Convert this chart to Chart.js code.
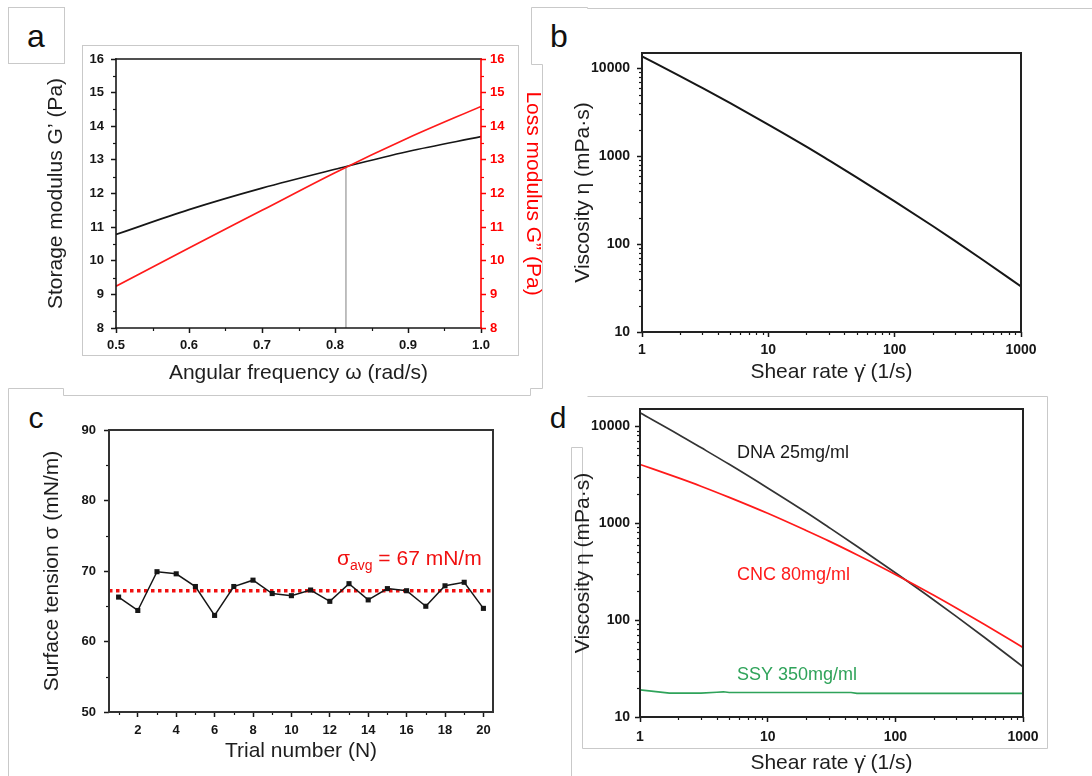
<!DOCTYPE html>
<html>
<head>
<meta charset="utf-8">
<script src="https://cdn.jsdelivr.net/npm/chart.js@4.4.1/dist/chart.umd.min.js"></script>
<style>
  html, body { margin: 0; padding: 0; background: #ffffff; }
  #wrap { position: relative; width: 1092px; height: 776px; overflow: hidden; background: #fff; }
  #wrap canvas { position: absolute; }
  #wrap svg { position: absolute; left: 0; top: 0; }
</style>
</head>
<body>
<div id="wrap">
  <svg width="1092" height="776" xmlns="http://www.w3.org/2000/svg">
    <g fill="none" stroke="#c9c9c9" stroke-width="1">
      <rect x="8.5" y="7.5" width="56" height="56"/>
      <rect x="82.5" y="45.5" width="436" height="310"/>
      <polyline points="8.5,776 8.5,388.5 63.5,388.5 63.5,395.5 530.5,395.5 530.5,388.5 542.5,388.5 542.5,64.5 531.5,64.5 531.5,7.5 587.5,7.5 587.5,8.5 1092,8.5"/>
      <polyline points="571.5,776 571.5,447.5 582.5,447.5 582.5,748.5 1047.5,748.5 1047.5,396.5 587.5,396.5"/>
    </g>
    <g font-family="'Liberation Sans', Arial, sans-serif" fill="#111" text-anchor="middle">
      <text x="36" y="47" font-size="32">a</text>
      <text x="559" y="47" font-size="32">b</text>
      <text x="36" y="428" font-size="30">c</text>
      <text x="558" y="428" font-size="30">d</text>
    </g>
  </svg>
  <canvas id="chartA" width="545" height="388" style="left:0px;top:0px"></canvas>
  <canvas id="chartB" width="547" height="388" style="left:545px;top:0px"></canvas>
  <canvas id="chartC" width="545" height="388" style="left:0px;top:388px"></canvas>
  <canvas id="chartD" width="547" height="388" style="left:545px;top:388px"></canvas>
</div>
<script>
// ---------------- DATA ----------------
// Panel a: oscillatory sweep
const omega = [0.5, 0.6, 0.7, 0.8, 0.9, 1.0];
const storageModulus = [10.78, 11.52, 12.16, 12.72, 13.25, 13.69];
const lossModulus = [9.24, 10.38, 11.50, 12.62, 13.65, 14.59];
const crossoverOmega = [0.815, 0.815];
const crossoverG = [8, 12.8];
const omegaTicks = [0.5, 0.6, 0.7, 0.8, 0.9, 1.0];
const modulusTicks = [8, 9, 10, 11, 12, 13, 14, 15, 16];

// Panels b and d: flow curves
const shearRate = [1, 2, 3, 5, 10, 20, 30, 50, 100, 200, 300, 500, 1000];
const dnaViscosity = [13700, 8200, 6000, 4030, 2300, 1290, 906, 577, 307, 161, 109, 66, 33];
const cncViscosity = [4020, 2920, 2400, 1840, 1260, 838, 655, 471, 295, 180, 133, 90, 52];
const ssyShearRate = [1, 1.7, 3, 4, 4.5, 5, 10, 20, 45, 50, 100, 1000];
const ssyViscosity = [19.0, 17.6, 17.6, 18.0, 18.2, 17.9, 17.9, 17.9, 17.9, 17.5, 17.5, 17.5];
const rateTicks = [1, 10, 100, 1000];
const viscosityTicks = [10, 100, 1000, 10000];

// Panel c: surface tension trials
const trialNumber = [1, 2, 3, 4, 5, 6, 7, 8, 9, 10, 11, 12, 13, 14, 15, 16, 17, 18, 19, 20];
const surfaceTension = [66.3, 64.4, 69.9, 69.6, 67.8, 63.7, 67.8, 68.7, 66.8, 66.5, 67.3, 65.7, 68.2, 65.9, 67.5, 67.2, 65.0, 67.9, 68.4, 64.7];
const sigmaAvg = 67.2;
const trialTicks = [2, 4, 6, 8, 10, 12, 14, 16, 18, 20];
const tensionTicks = [50, 60, 70, 80, 90];

// ---------------- HELPERS ----------------
const FONT = "'Liberation Sans', Arial, Helvetica, sans-serif";
const INK = '#161616';
const RED = '#ff1a1a';
const GREEN = '#2fa35a';

function pts(xs, ys) { return xs.map((x, i) => ({ x: x, y: ys[i] })); }
function midMinor(ticks, lo, hi) {
  const out = [];
  const step = ticks[1] - ticks[0];
  const first = ticks[0] - step / 2;
  if (first >= lo - 1e-9) out.push(first);
  for (let i = 0; i < ticks.length - 1; i++) out.push((ticks[i] + ticks[i + 1]) / 2);
  const last = ticks[ticks.length - 1] + step / 2;
  if (last <= hi + 1e-9) out.push(last);
  return out;
}
function logMinor(ticks, lo, hi) {
  const out = [];
  ticks.forEach(d => { for (let k = 2; k <= 9; k++) { const v = d * k; if (v >= lo && v <= hi) out.push(v); } });
  return out;
}
function mkAxis(o) {
  return {
    type: o.type || 'linear',
    position: o.pos,
    axis: o.axis,
    min: o.min, max: o.max,
    afterBuildTicks: s => { s.ticks = o.ticks.map(v => ({ value: v })); },
    afterFit: s => { if (s.isHorizontal()) s.height = o.size; else s.width = o.size; },
    grid: { display: true, drawOnChartArea: false, drawTicks: true, tickLength: 5, tickWidth: 1.5,
            tickColor: o.color, color: o.color, lineWidth: 1 },
    border: { display: false },
    ticks: { autoSkip: false, maxRotation: 0, minRotation: 0, padding: o.tickPad, color: o.color,
             font: { family: FONT, size: o.tickSize || 13, weight: 'bold' }, callback: o.fmt },
    title: { display: true, text: o.title, color: o.titleColor || '#1e1e1e',
             font: { family: FONT, size: 21 }, padding: o.titlePad }
  };
}
function dummy(axis, pos, size) {
  return { type: 'linear', axis: axis, position: pos, display: true,
           grid: { display: false }, border: { display: false },
           ticks: { display: false }, title: { display: false },
           afterFit: s => { if (s.isHorizontal()) s.height = size; else s.width = size; } };
}

const decorPlugin = {
  id: 'decor',
  afterDatasetsDraw(chart, args, opts) {
    const ctx = chart.ctx, ca = chart.chartArea;
    ctx.save();
    (opts.minor || []).forEach(m => {
      const s = chart.scales[m.axis];
      ctx.strokeStyle = m.color; ctx.lineWidth = 1.2;
      m.values.forEach(v => {
        const p = Math.round(s.getPixelForValue(v)) + 0.5;
        ctx.beginPath();
        if (s.position === 'left') { ctx.moveTo(ca.left, p); ctx.lineTo(ca.left - m.len, p); }
        else if (s.position === 'right') { ctx.moveTo(ca.right, p); ctx.lineTo(ca.right + m.len, p); }
        else { ctx.moveTo(p, ca.bottom); ctx.lineTo(p, ca.bottom + m.len); }
        ctx.stroke();
      });
    });
    const f = opts.frame;
    ctx.lineWidth = f.width; ctx.lineCap = 'square';
    const seg = (x1, y1, x2, y2, c) => { ctx.strokeStyle = c; ctx.beginPath(); ctx.moveTo(x1, y1); ctx.lineTo(x2, y2); ctx.stroke(); };
    seg(ca.left, ca.top, ca.right, ca.top, f.top);
    seg(ca.left, ca.bottom, ca.right, ca.bottom, f.bottom);
    seg(ca.left, ca.top, ca.left, ca.bottom, f.left);
    seg(ca.right, ca.top, ca.right, ca.bottom, f.right);
    (opts.texts || []).forEach(t => {
      let x = chart.scales.x.getPixelForValue(t.x);
      const y = chart.scales.y.getPixelForValue(t.y);
      ctx.textAlign = 'left';
      ctx.textBaseline = t.baseline || 'alphabetic';
      ctx.fillStyle = t.color;
      t.parts.forEach(p => {
        ctx.font = p.font;
        ctx.fillText(p.text, x, y + (p.dy || 0));
        x += ctx.measureText(p.text).width;
      });
    });
    ctx.restore();
  }
};

const baseOpts = { responsive: false, animation: false, devicePixelRatio: 1, layout: { padding: 0 } };

// ---------------- PANEL A ----------------
new Chart(document.getElementById('chartA'), {
  type: 'scatter',
  data: { datasets: [
    { label: 'Loss modulus G″', data: pts(omega, lossModulus), yAxisID: 'y2', showLine: true,
      borderColor: RED, borderWidth: 1.7, pointRadius: 0, cubicInterpolationMode: 'monotone', order: 0 },
    { label: 'Storage modulus G′', data: pts(omega, storageModulus), yAxisID: 'y', showLine: true,
      borderColor: INK, borderWidth: 1.7, pointRadius: 0, cubicInterpolationMode: 'monotone', order: 1 },
    { label: 'Crossover', data: pts(crossoverOmega, crossoverG), yAxisID: 'y', showLine: true,
      borderColor: '#8c8c8c', borderWidth: 1.1, pointRadius: 0, order: 2 }
  ]},
  options: Object.assign({}, baseOpts, {
    plugins: {
      legend: { display: false }, tooltip: { enabled: false },
      decor: {
        frame: { width: 1.6, top: INK, bottom: INK, left: INK, right: '#ff0000' },
        minor: [
          { axis: 'x', values: midMinor(omegaTicks, 0.5, 1.0), len: 3, color: INK },
          { axis: 'y', values: midMinor(modulusTicks, 8, 16), len: 3, color: INK },
          { axis: 'y2', values: midMinor(modulusTicks, 8, 16), len: 3, color: '#ff0000' }
        ]
      }
    },
    scales: {
      x: mkAxis({ axis: 'x', pos: 'bottom', min: 0.5, max: 1.0, ticks: omegaTicks, size: 60, tickPad: 5,
                  color: INK, fmt: v => Number(v).toFixed(1), title: 'Angular frequency ω (rad/s)',
                  titlePad: { top: 0, bottom: 2.4 } }),
      y: mkAxis({ axis: 'y', pos: 'left', min: 8, max: 16, ticks: modulusTicks, size: 116, tickPad: 7,
                  color: INK, fmt: v => String(v), title: 'Storage modulus G’ (Pa)',
                  titlePad: { top: 43.4, bottom: 0 } }),
      y2: mkAxis({ axis: 'y', pos: 'right', min: 8, max: 16, ticks: modulusTicks, size: 64, tickPad: 4,
                  color: '#ff0000', fmt: v => String(v), title: 'Loss modulus G” (Pa)', titleColor: '#ff0000',
                  titlePad: { top: 0, bottom: 0 } }),
      top: dummy('x', 'top', 59)
    }
  }),
  plugins: [decorPlugin]
});

// ---------------- PANEL B ----------------
new Chart(document.getElementById('chartB'), {
  type: 'scatter',
  data: { datasets: [
    { label: 'Viscosity', data: pts(shearRate, dnaViscosity), showLine: true,
      borderColor: INK, borderWidth: 2, pointRadius: 0, cubicInterpolationMode: 'monotone' }
  ]},
  options: Object.assign({}, baseOpts, {
    plugins: {
      legend: { display: false }, tooltip: { enabled: false },
      decor: {
        frame: { width: 2, top: '#222', bottom: '#222', left: '#222', right: '#222' },
        minor: [
          { axis: 'x', values: logMinor(rateTicks, 1, 1000), len: 3, color: INK },
          { axis: 'y', values: logMinor(viscosityTicks, 10, 15000), len: 3, color: INK }
        ]
      }
    },
    scales: {
      x: mkAxis({ type: 'logarithmic', axis: 'x', pos: 'bottom', min: 1, max: 1000, ticks: rateTicks, size: 56,
                  tickPad: 5, tickSize: 14, color: INK, fmt: v => String(v), title: 'Shear rate γ̇ (1/s)',
                  titlePad: { top: 0, bottom: 3.4 } }),
      y: mkAxis({ type: 'logarithmic', axis: 'y', pos: 'left', min: 10, max: 15000, ticks: viscosityTicks, size: 97,
                  tickPad: 7, tickSize: 14, color: INK, fmt: v => String(v), title: 'Viscosity η (mPa·s)',
                  titlePad: { top: 25.4, bottom: 0 } }),
      top: dummy('x', 'top', 53),
      right: dummy('y', 'right', 71)
    }
  }),
  plugins: [decorPlugin]
});

// ---------------- PANEL C ----------------
new Chart(document.getElementById('chartC'), {
  type: 'scatter',
  data: { datasets: [
    { label: 'Surface tension', data: pts(trialNumber, surfaceTension), showLine: true,
      borderColor: INK, borderWidth: 1.5, pointStyle: 'rect', pointRadius: 3.6,
      pointBackgroundColor: INK, pointBorderColor: INK, pointBorderWidth: 0, order: 0 },
    { label: 'Average', data: pts([0.5, 20.5], [sigmaAvg, sigmaAvg]), showLine: true,
      borderColor: '#f01010', borderWidth: 3.5, borderDash: [3.5, 3.5], pointRadius: 0, order: 1 }
  ]},
  options: Object.assign({}, baseOpts, {
    plugins: {
      legend: { display: false }, tooltip: { enabled: false },
      decor: {
        frame: { width: 2, top: '#333', bottom: '#333', left: '#333', right: '#333' },
        minor: [
          { axis: 'x', values: midMinor(trialTicks, 0.5, 20.5), len: 3, color: INK },
          { axis: 'y', values: midMinor(tensionTicks, 50, 90), len: 3, color: INK }
        ],
        texts: [
          { x: 12.375, y: 70.85, color: '#f01010', parts: [
            { text: 'σ', font: '21px ' + FONT },
            { text: 'avg', font: '14px ' + FONT, dy: 5 },
            { text: ' = 67 mN/m', font: '21px ' + FONT }
          ]}
        ]
      }
    },
    scales: {
      x: mkAxis({ axis: 'x', pos: 'bottom', min: 0.5, max: 20.5, ticks: trialTicks, size: 64, tickPad: 6,
                  color: INK, fmt: v => String(v), title: 'Trial number (N)',
                  titlePad: { top: 0, bottom: 12.4 } }),
      y: mkAxis({ axis: 'y', pos: 'left', min: 50, max: 90, ticks: tensionTicks, size: 109, tickPad: 8,
                  color: INK, fmt: v => String(v), title: 'Surface tension σ (mN/m)',
                  titlePad: { top: 39.4, bottom: 0 } }),
      top: dummy('x', 'top', 42),
      right: dummy('y', 'right', 52)
    }
  }),
  plugins: [decorPlugin]
});

// ---------------- PANEL D ----------------
new Chart(document.getElementById('chartD'), {
  type: 'scatter',
  data: { datasets: [
    { label: 'CNC 80mg/ml', data: pts(shearRate, cncViscosity), showLine: true,
      borderColor: RED, borderWidth: 1.7, pointRadius: 0, cubicInterpolationMode: 'monotone', order: 0 },
    { label: 'DNA 25mg/ml', data: pts(shearRate, dnaViscosity), showLine: true,
      borderColor: '#333', borderWidth: 1.7, pointRadius: 0, cubicInterpolationMode: 'monotone', order: 1 },
    { label: 'SSY 350mg/ml', data: pts(ssyShearRate, ssyViscosity), showLine: true,
      borderColor: GREEN, borderWidth: 1.7, pointRadius: 0, order: 2 }
  ]},
  options: Object.assign({}, baseOpts, {
    plugins: {
      legend: { display: false }, tooltip: { enabled: false },
      decor: {
        frame: { width: 2, top: '#222', bottom: '#222', left: '#222', right: '#222' },
        minor: [
          { axis: 'x', values: logMinor(rateTicks, 1, 1000), len: 3, color: INK },
          { axis: 'y', values: logMinor(viscosityTicks, 10, 15000), len: 3, color: INK }
        ],
        texts: [
          { x: 5.75, y: 5270, baseline: 'middle', color: '#1a1a1a', parts: [{ text: 'DNA 25mg/ml', font: '18px ' + FONT }] },
          { x: 5.75, y: 291, baseline: 'middle', color: '#ff1a1a', parts: [{ text: 'CNC 80mg/ml', font: '18px ' + FONT }] },
          { x: 5.75, y: 27.1, baseline: 'middle', color: GREEN, parts: [{ text: 'SSY 350mg/ml', font: '18px ' + FONT }] }
        ]
      }
    },
    scales: {
      x: mkAxis({ type: 'logarithmic', axis: 'x', pos: 'bottom', min: 1, max: 1000, ticks: rateTicks, size: 59,
                  tickPad: 7, tickSize: 14, color: INK, fmt: v => String(v), title: 'Shear rate γ̇ (1/s)',
                  titlePad: { top: 0, bottom: 0 } }),
      y: mkAxis({ type: 'logarithmic', axis: 'y', pos: 'left', min: 10, max: 15000, ticks: viscosityTicks, size: 95,
                  tickPad: 5, tickSize: 14, color: INK, fmt: v => String(v), title: 'Viscosity η (mPa·s)',
                  titlePad: { top: 25.4, bottom: 0 } }),
      top: dummy('x', 'top', 21),
      right: dummy('y', 'right', 69)
    }
  }),
  plugins: [decorPlugin]
});
</script>
</body>
</html>
